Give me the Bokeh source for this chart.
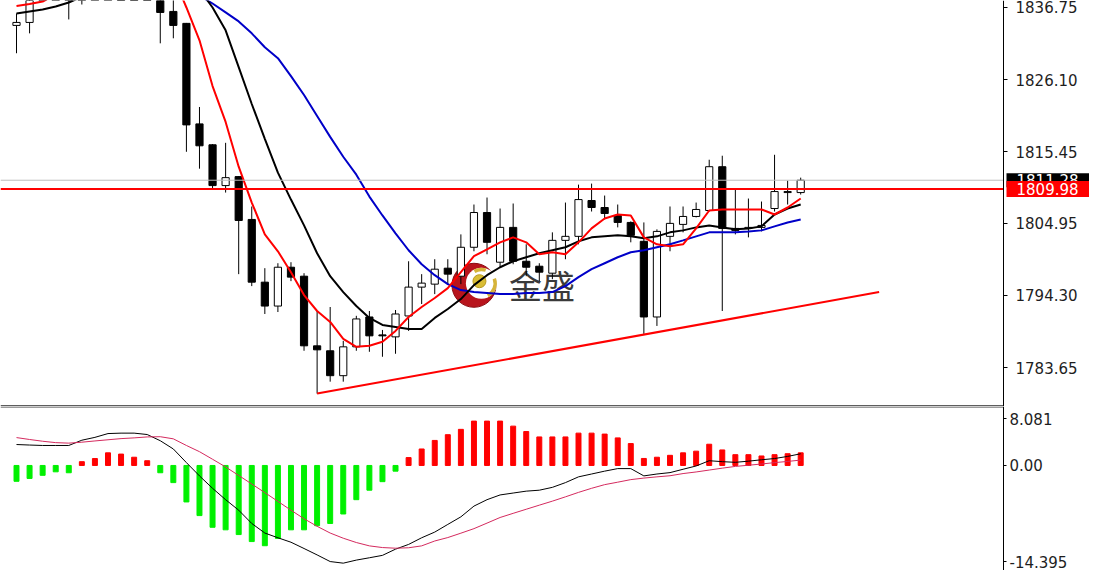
from bokeh.plotting import figure
from bokeh.layouts import column
from bokeh.models import Range1d, LinearAxis, FixedTicker, Label, ColumnDataSource
from bokeh.embed import file_html
from bokeh.resources import INLINE
from bokeh.core.properties import value

# ---------------- data ----------------
opens = [1834.09, 1834.53, 1838.2, 1839.6, 1840.4, 1841.3, 1842.6, 1844.1, 1845.0, 1843.6,
         1842.1, 1839.4, 1836.15, 1834.39, 1819.58, 1816.50, 1810.49, 1811.81, 1805.50, 1796.26,
         1792.74, 1798.46, 1797.14, 1786.88, 1786.15, 1782.48, 1786.73, 1791.13, 1788.49, 1788.20,
         1791.28, 1795.53, 1795.97, 1798.32, 1797.14, 1801.40, 1806.52, 1799.20, 1804.33, 1799.34,
         1798.61, 1797.58, 1802.42, 1803.01, 1808.29, 1807.26, 1806.09, 1805.06, 1802.28, 1791.13,
         1803.01, 1804.77, 1805.94, 1806.82, 1813.27, 1804.18, 1804.18, 1804.33, 1807.11, 1809.46,
         1809.46]
highs = [1835.85, 1839.2, 1840.5, 1841.2, 1842.0, 1843.5, 1845.0, 1846.3, 1846.8, 1845.2,
         1843.5, 1840.6, 1838.2, 1834.45, 1822.07, 1816.6, 1816.79, 1811.9, 1807.41, 1798.32,
         1799.05, 1799.20, 1797.58, 1792.01, 1792.60, 1787.61, 1791.3, 1792.01, 1789.22, 1792.16,
         1799.34, 1797.44, 1799.64, 1799.64, 1803.30, 1807.70, 1808.73, 1807.11, 1807.85, 1801.84,
         1799.05, 1803.60, 1807.99, 1810.63, 1810.78, 1809.02, 1807.70, 1805.21, 1805.06, 1804.04,
         1807.41, 1807.41, 1807.99, 1814.30, 1814.89, 1810.05, 1808.58, 1808.14, 1815.03, 1811.22,
         1811.66]
lows = [1829.99, 1832.92, 1838.0, 1838.4, 1834.97, 1837.17, 1840.5, 1842.2, 1842.8, 1841.0,
        1838.5, 1831.45, 1832.19, 1815.47, 1812.98, 1809.90, 1809.46, 1797.44, 1795.68, 1791.57,
        1791.86, 1796.41, 1786.15, 1779.84, 1781.60, 1781.60, 1786.15, 1786.00, 1785.27, 1785.71,
        1789.08, 1793.04, 1794.50, 1795.97, 1795.97, 1800.81, 1800.37, 1798.46, 1798.90, 1797.14,
        1796.41, 1796.70, 1799.64, 1801.84, 1806.67, 1805.50, 1804.33, 1802.13, 1788.64, 1789.81,
        1800.81, 1803.60, 1805.80, 1806.67, 1792.01, 1803.30, 1802.86, 1803.74, 1806.67, 1807.70,
        1809.17]
closes = [1834.53, 1838.2, 1839.6, 1840.4, 1841.3, 1842.6, 1844.1, 1845.0, 1843.6, 1842.1,
          1839.4, 1836.00, 1834.09, 1819.43, 1816.35, 1810.49, 1811.66, 1805.35, 1796.26, 1792.74,
          1798.46, 1797.00, 1786.88, 1786.29, 1782.48, 1786.73, 1790.84, 1788.35, 1788.35, 1791.57,
          1795.53, 1796.12, 1798.17, 1797.44, 1801.40, 1806.52, 1802.13, 1804.33, 1799.34, 1798.46,
          1797.73, 1802.42, 1803.01, 1808.43, 1807.26, 1806.38, 1805.06, 1803.16, 1791.13, 1803.74,
          1804.92, 1805.94, 1806.97, 1813.27, 1804.18, 1803.89, 1804.33, 1804.62, 1809.61, 1809.61,
          1811.28]

ma_fast = [1836.95, 1837.25, 1837.61, 1838.6, 1839.6, 1840.6, 1841.6, 1842.4, 1843.0, 1843.2,
           1843.0, 1842.4, 1841.3, 1836.73, 1831.89, 1825.15, 1819.87, 1813.27, 1807.99, 1803.30,
           1800.81, 1797.73, 1794.36, 1792.01, 1790.40, 1787.91, 1786.73, 1786.88, 1787.47, 1789.08,
           1791.13, 1792.60, 1793.92, 1795.38, 1797.73, 1800.08, 1801.10, 1802.13, 1802.86, 1802.13,
           1800.37, 1800.66, 1800.37, 1802.13, 1804.18, 1805.65, 1806.23, 1806.09, 1802.86, 1801.84,
           1801.54, 1801.84, 1804.18, 1806.82, 1806.97, 1806.97, 1806.97, 1806.97, 1806.23, 1807.26,
           1808.58]
ma_mid = [1835.85, 1836.15, 1836.44, 1836.88, 1837.47, 1838.3, 1839.1, 1839.9, 1840.6, 1841.1,
          1841.4, 1841.4, 1841.0, 1840.3, 1839.4, 1836.73, 1833.36, 1827.94, 1822.51, 1817.38,
          1812.39, 1808.43, 1804.62, 1800.52, 1797.14, 1794.80, 1792.74, 1790.99, 1789.96, 1789.67,
          1789.37, 1789.37, 1790.99, 1792.30, 1793.77, 1795.82, 1797.29, 1798.46, 1799.34, 1799.93,
          1800.52, 1800.96, 1801.40, 1802.28, 1802.86, 1803.01, 1803.16, 1803.01, 1802.72, 1803.01,
          1803.60, 1803.89, 1804.33, 1804.62, 1804.33, 1804.04, 1804.18, 1804.48, 1806.23, 1807.11,
          1807.70]
ma_slow = [1846.0, 1846.3, 1846.6, 1846.8, 1847.0, 1847.1, 1847.2, 1847.2, 1846.9, 1846.3,
           1845.3, 1844.0, 1842.4, 1840.5, 1838.46, 1837.32, 1836.00, 1834.68, 1832.92, 1830.87,
           1829.26, 1826.62, 1823.83, 1820.75, 1817.67, 1814.74, 1812.10, 1808.87, 1806.09, 1803.45,
           1800.96, 1798.90, 1797.29, 1795.97, 1795.09, 1794.80, 1794.65, 1794.50, 1794.50, 1794.65,
           1794.65, 1794.80, 1795.68, 1797.00, 1798.17, 1799.05, 1799.93, 1800.66, 1800.96, 1801.40,
           1801.84, 1802.42, 1803.01, 1803.60, 1803.60, 1803.60, 1803.74, 1803.89, 1804.48, 1805.06,
           1805.50]

macd_hist = [-2.17, -1.78, -1.35, -0.87, -1.0, 0.52, 0.95, 1.73, 1.56, 1.13,
             0.65, -1.0, -2.35, -5.0, -6.87, -8.47, -8.82, -9.47, -10.43, -11.0,
             -10.0, -8.82, -8.82, -8.26, -7.95, -6.65, -4.69, -3.39, -2.22, -0.78,
             1.08, 2.26, 3.43, 4.22, 4.95, 6.08, 6.08, 6.08, 5.39, 4.65,
             3.91, 3.91, 3.91, 4.43, 4.43, 4.30, 3.78, 3.0, 0.96, 1.13,
             1.39, 1.73, 1.96, 2.91, 2.13, 1.48, 1.48, 1.30, 1.48, 1.61,
             1.73]
macd_main = [2.87, 2.80, 2.74, 2.74, 2.74, 3.46, 3.85, 4.37, 4.43, 4.43,
             4.24, 3.39, 2.26, 0.39, -1.43, -3.13, -4.69, -6.13, -7.95, -9.26,
             -9.91, -10.52, -11.38, -12.26, -13.17, -13.39, -12.97, -12.65, -12.32, -11.47,
             -10.82, -9.91, -9.13, -8.08, -7.04, -5.57, -4.69, -4.04, -3.78, -3.52,
             -3.39, -3.0, -2.35, -1.56, -1.17, -0.78, -0.43, -0.43, -1.43, -1.17,
             -0.98, -0.52, -0.07, 0.65, 0.52, 0.43, 0.59, 0.78, 0.95, 1.24,
             1.60]
macd_signal = [3.82, 3.56, 3.32, 3.13, 3.06, 3.19, 3.36, 3.52, 3.68, 3.78,
               3.91, 3.94, 3.65, 2.74, 1.89, 0.85, -0.20, -1.37, -2.54, -3.72,
               -4.92, -6.13, -7.30, -8.34, -9.26, -9.97, -10.56, -11.02, -11.25, -11.34,
               -11.28, -11.02, -10.35, -9.88, -9.28, -8.66, -7.90, -7.13, -6.56, -6.00,
               -5.44, -4.89, -4.30, -3.69, -3.13, -2.63, -2.29, -1.94, -1.73, -1.56,
               -1.41, -1.11, -0.89, -0.63, -0.37, -0.13, 0.03, 0.20, 0.39, 0.55,
               0.74]

price_ticks = [1783.65, 1794.30, 1804.95, 1815.45, 1826.10, 1836.75]
macd_max, macd_min = 8.081, -14.395
macd_tick_labels = ["8.081", "0.00", "-14.395"]
hline_price = 1809.98
last_price = 1811.28
trend_x = [23, 66]
trend_y = [1779.84, 1794.80]
watermark_text = "金盛"

# ---------------- layout ----------------
FONT = "DejaVu Sans"
W = 1089                      # full width of both panels
PX_PER_BAR = 13.07
X_START = -16 / PX_PER_BAR    # left edge of the picture
X_END = X_START + W / PX_PER_BAR
AXIS_X = X_START + 1003 / PX_PER_BAR   # where the price scale sits
PRICE_TOP, PRICE_BOTTOM = 1837.76, 1777.94
FH_MAIN, FH_MACD = 406, 164

n = len(closes)
idx = list(range(n))
xr = Range1d(X_START, X_END)


def make_fig(h, yr):
    f = figure(frame_width=W, frame_height=h, x_range=xr, y_range=yr,
               output_backend="svg", toolbar_location=None,
               x_axis_location=None, y_axis_location=None,
               min_border_left=0, min_border_top=0, min_border_bottom=0, min_border_right=0,
               background_fill_color="white", border_fill_color="white",
               outline_line_color=None)
    f.xgrid.visible = False
    f.ygrid.visible = False
    return f


def style_axis(a, standoff, tick_out):
    a.axis_line_color = "black"
    a.axis_line_width = 1
    a.major_tick_out = tick_out
    a.major_tick_in = 0
    a.major_tick_line_color = "black"
    a.minor_tick_line_color = None
    a.major_label_text_font = FONT
    a.major_label_text_font_size = "15px"
    a.major_label_text_color = "#1e1e1e"
    a.major_label_standoff = standoff
    a.fixed_location = AXIS_X


p = make_fig(FH_MAIN, Range1d(PRICE_BOTTOM, PRICE_TOP))

# watermark (behind everything)
wm_x, wm_y = 35.0, 1795.8
p.scatter([wm_x], [wm_y], size=44, marker="circle", fill_color="#B8141C", line_color="#8A0B10")
p.scatter([wm_x + 0.57], [wm_y + 0.3], size=31, marker="circle", fill_color="white", line_color=None)
p.annular_wedge([wm_x + 0.57], [wm_y + 0.3], inner_radius=12, outer_radius=15.5,
                inner_radius_units="screen", outer_radius_units="screen",
                start_angle=-1.1, end_angle=0.35, fill_color="#D6B43A", line_color=None)
p.annular_wedge([wm_x + 0.57], [wm_y + 0.3], inner_radius=12, outer_radius=15.5,
                inner_radius_units="screen", outer_radius_units="screen",
                start_angle=1.25, end_angle=2.1, fill_color="#D6B43A", line_color=None)
p.scatter([wm_x + 0.42], [wm_y + 0.6], size=13, marker="circle", fill_color="#D9BD35",
          line_color="#B89A20")
p.text([wm_x + 5.2], [wm_y], text=[watermark_text], text_font=value("Noto Sans CJK SC"),
       text_font_size="33px", text_color="#3a3a3a", text_align="center", text_baseline="middle")

# candles
bull = [c >= o for o, c in zip(opens, closes)]
src = ColumnDataSource(dict(
    x=idx, high=highs, low=lows,
    top=[max(o, c) for o, c in zip(opens, closes)],
    bottom=[min(o, c) for o, c in zip(opens, closes)],
    fill=["white" if b else "black" for b in bull],
))
p.segment(x0="x", y0="low", x1="x", y1="high", source=src, line_color="black", line_width=1)
p.vbar(x="x", top="top", bottom="bottom", width=0.55, source=src,
       fill_color="fill", line_color="black", line_width=1)

# moving averages
p.line(idx, ma_slow, line_color="#0000C8", line_width=2)
p.line(idx, ma_mid, line_color="black", line_width=2)
p.line(idx, ma_fast, line_color="#FF0000", line_width=2)

# horizontal lines (stop at the price scale)
p.segment([X_START], [last_price], [AXIS_X], [last_price], line_color="#BDBDBD", line_width=1)
p.segment([X_START], [hline_price], [AXIS_X], [hline_price], line_color="#FF0000", line_width=2)
# trend line
p.line(trend_x, trend_y, line_color="#FF0000", line_width=2)
# panel separator (bottom edge of the price panel)
p.segment([X_START], [PRICE_BOTTOM], [AXIS_X], [PRICE_BOTTOM], line_color="#5E5E5E", line_width=3)

ax = LinearAxis(ticker=FixedTicker(ticks=price_ticks),
                major_label_overrides={t: f"{t:.2f}" for t in price_ticks})
style_axis(ax, 8, 4)
p.add_layout(ax, "right")

p.add_layout(Label(x=AXIS_X, y=last_price, x_offset=3, text=f"{last_price:.2f}",
                   text_font=FONT, text_font_size="15px", text_color="white",
                   text_baseline="middle", text_align="left",
                   background_fill_color="black",
                   padding=dict(left=10, right=60, top=1, bottom=1)))
p.add_layout(Label(x=AXIS_X, y=hline_price, x_offset=3, text=f"{hline_price:.2f}",
                   text_font=FONT, text_font_size="15px", text_color="white",
                   text_baseline="middle", text_align="left",
                   background_fill_color="#FF0000",
                   padding=dict(left=10, right=60, top=2, bottom=2)))

# ---------------- MACD panel ----------------
q = make_fig(FH_MACD, Range1d(macd_min, macd_max))

q.vbar(x=idx, top=macd_hist, bottom=0, width=0.38,
       color=["#FF0000" if v >= 0 else "#00F000" for v in macd_hist])
q.line(idx, macd_main, line_color="black", line_width=1)
q.line(idx, macd_signal, line_color="#D42A5E", line_width=1)
q.segment([X_START], [macd_max], [AXIS_X], [macd_max], line_color="#9C9C9C", line_width=3)

px_per_unit = FH_MACD / (macd_max - macd_min)
tick_pos = [macd_max - 12 / px_per_unit, 0.0, macd_min + 9 / px_per_unit]
ax2 = LinearAxis(ticker=FixedTicker(ticks=tick_pos),
                 major_label_overrides={t: lab for t, lab in zip(tick_pos, macd_tick_labels)})
style_axis(ax2, 3, 3)
q.add_layout(ax2, "right")

layout = column(p, q, spacing=0)
open("out.html", "w").write(file_html(layout, INLINE))
